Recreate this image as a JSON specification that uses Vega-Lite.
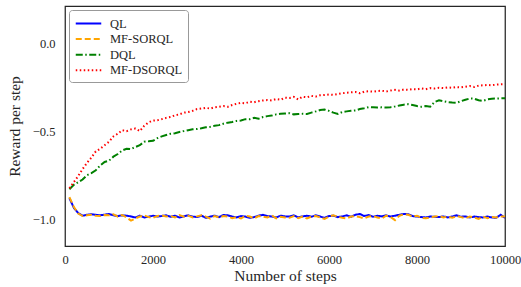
{
  "$schema": "https://vega.github.io/schema/vega-lite/v6.json",
  "width": 440,
  "height": 240,
  "autosize": {"type": "none"},
  "padding": {"left": 65, "top": 6, "right": 16, "bottom": 41},
  "background": "white",
  "config": {
    "font": "Liberation Serif",
    "view": {"stroke": "#262626", "strokeWidth": 1.25},
    "axis": {"domain": false, "grid": false, "ticks": false, "labelColor": "#262626", "titleColor": "#262626", "labelFont": "Liberation Serif", "titleFont": "Liberation Serif", "titleFontWeight": "normal"},
    "legend": {"labelFont": "Liberation Serif", "titleFont": "Liberation Serif"},
    "text": {"font": "Liberation Serif"}
  },
  "data": {"values": [
    {"s":100,"QL":-0.880,"MF-SORQL":-0.875,"DQL":-0.830,"MF-DSORQL":-0.825},
    {"s":200,"QL":-0.935,"MF-SORQL":-0.930,"DQL":-0.805,"MF-DSORQL":-0.790},
    {"s":300,"QL":-0.965,"MF-SORQL":-0.968,"DQL":-0.790,"MF-DSORQL":-0.755},
    {"s":400,"QL":-0.980,"MF-SORQL":-0.982,"DQL":-0.775,"MF-DSORQL":-0.715},
    {"s":500,"QL":-0.975,"MF-SORQL":-0.978,"DQL":-0.750,"MF-DSORQL":-0.680},
    {"s":600,"QL":-0.972,"MF-SORQL":-0.975,"DQL":-0.738,"MF-DSORQL":-0.650},
    {"s":700,"QL":-0.975,"MF-SORQL":-0.980,"DQL":-0.722,"MF-DSORQL":-0.615},
    {"s":800,"QL":-0.978,"MF-SORQL":-0.982,"DQL":-0.695,"MF-DSORQL":-0.600},
    {"s":900,"QL":-0.974,"MF-SORQL":-0.976,"DQL":-0.675,"MF-DSORQL":-0.580},
    {"s":1000,"QL":-0.970,"MF-SORQL":-0.978,"DQL":-0.668,"MF-DSORQL":-0.560},
    {"s":1100,"QL":-0.978,"MF-SORQL":-0.972,"DQL":-0.645,"MF-DSORQL":-0.530},
    {"s":1200,"QL":-0.982,"MF-SORQL":-0.985,"DQL":-0.630,"MF-DSORQL":-0.515},
    {"s":1300,"QL":-0.978,"MF-SORQL":-0.976,"DQL":-0.610,"MF-DSORQL":-0.495},
    {"s":1400,"QL":-0.980,"MF-SORQL":-0.990,"DQL":-0.600,"MF-DSORQL":-0.500},
    {"s":1500,"QL":-0.984,"MF-SORQL":-1.008,"DQL":-0.602,"MF-DSORQL":-0.490},
    {"s":1600,"QL":-0.990,"MF-SORQL":-0.995,"DQL":-0.590,"MF-DSORQL":-0.485},
    {"s":1700,"QL":-0.980,"MF-SORQL":-0.985,"DQL":-0.580,"MF-DSORQL":-0.500},
    {"s":1800,"QL":-0.990,"MF-SORQL":-0.978,"DQL":-0.560,"MF-DSORQL":-0.470},
    {"s":1900,"QL":-0.986,"MF-SORQL":-0.988,"DQL":-0.558,"MF-DSORQL":-0.450},
    {"s":2000,"QL":-0.980,"MF-SORQL":-0.992,"DQL":-0.555,"MF-DSORQL":-0.440},
    {"s":2100,"QL":-0.985,"MF-SORQL":-0.982,"DQL":-0.540,"MF-DSORQL":-0.438},
    {"s":2200,"QL":-0.982,"MF-SORQL":-0.978,"DQL":-0.530,"MF-DSORQL":-0.432},
    {"s":2300,"QL":-0.978,"MF-SORQL":-0.985,"DQL":-0.522,"MF-DSORQL":-0.425},
    {"s":2400,"QL":-0.986,"MF-SORQL":-0.982,"DQL":-0.515,"MF-DSORQL":-0.420},
    {"s":2500,"QL":-0.980,"MF-SORQL":-0.990,"DQL":-0.512,"MF-DSORQL":-0.410},
    {"s":2600,"QL":-0.990,"MF-SORQL":-0.976,"DQL":-0.505,"MF-DSORQL":-0.405},
    {"s":2700,"QL":-0.984,"MF-SORQL":-0.986,"DQL":-0.500,"MF-DSORQL":-0.395},
    {"s":2800,"QL":-0.978,"MF-SORQL":-0.980,"DQL":-0.495,"MF-DSORQL":-0.392},
    {"s":2900,"QL":-0.985,"MF-SORQL":-0.990,"DQL":-0.490,"MF-DSORQL":-0.385},
    {"s":3000,"QL":-0.988,"MF-SORQL":-0.984,"DQL":-0.488,"MF-DSORQL":-0.375},
    {"s":3100,"QL":-0.980,"MF-SORQL":-0.978,"DQL":-0.484,"MF-DSORQL":-0.372},
    {"s":3200,"QL":-0.992,"MF-SORQL":-0.985,"DQL":-0.478,"MF-DSORQL":-0.368},
    {"s":3300,"QL":-0.985,"MF-SORQL":-0.996,"DQL":-0.476,"MF-DSORQL":-0.372},
    {"s":3400,"QL":-0.980,"MF-SORQL":-0.982,"DQL":-0.470,"MF-DSORQL":-0.365},
    {"s":3500,"QL":-0.988,"MF-SORQL":-0.990,"DQL":-0.466,"MF-DSORQL":-0.362},
    {"s":3600,"QL":-0.976,"MF-SORQL":-0.982,"DQL":-0.458,"MF-DSORQL":-0.358},
    {"s":3700,"QL":-0.978,"MF-SORQL":-0.985,"DQL":-0.452,"MF-DSORQL":-0.362},
    {"s":3800,"QL":-0.985,"MF-SORQL":-0.994,"DQL":-0.448,"MF-DSORQL":-0.352},
    {"s":3900,"QL":-0.990,"MF-SORQL":-0.988,"DQL":-0.442,"MF-DSORQL":-0.345},
    {"s":4000,"QL":-0.982,"MF-SORQL":-0.996,"DQL":-0.440,"MF-DSORQL":-0.340},
    {"s":4100,"QL":-0.985,"MF-SORQL":-0.980,"DQL":-0.432,"MF-DSORQL":-0.342},
    {"s":4200,"QL":-0.992,"MF-SORQL":-0.985,"DQL":-0.432,"MF-DSORQL":-0.333},
    {"s":4300,"QL":-0.988,"MF-SORQL":-0.996,"DQL":-0.425,"MF-DSORQL":-0.336},
    {"s":4400,"QL":-0.980,"MF-SORQL":-0.982,"DQL":-0.430,"MF-DSORQL":-0.330},
    {"s":4500,"QL":-0.975,"MF-SORQL":-0.985,"DQL":-0.420,"MF-DSORQL":-0.326},
    {"s":4600,"QL":-0.982,"MF-SORQL":-0.990,"DQL":-0.415,"MF-DSORQL":-0.324},
    {"s":4700,"QL":-0.985,"MF-SORQL":-0.978,"DQL":-0.412,"MF-DSORQL":-0.326},
    {"s":4800,"QL":-0.990,"MF-SORQL":-0.995,"DQL":-0.405,"MF-DSORQL":-0.318},
    {"s":4900,"QL":-0.980,"MF-SORQL":-0.986,"DQL":-0.402,"MF-DSORQL":-0.322},
    {"s":5000,"QL":-0.984,"MF-SORQL":-0.990,"DQL":-0.400,"MF-DSORQL":-0.310},
    {"s":5100,"QL":-0.985,"MF-SORQL":-0.992,"DQL":-0.398,"MF-DSORQL":-0.312},
    {"s":5200,"QL":-0.978,"MF-SORQL":-0.982,"DQL":-0.405,"MF-DSORQL":-0.306},
    {"s":5300,"QL":-0.990,"MF-SORQL":-0.994,"DQL":-0.403,"MF-DSORQL":-0.320},
    {"s":5400,"QL":-0.984,"MF-SORQL":-0.985,"DQL":-0.402,"MF-DSORQL":-0.305},
    {"s":5500,"QL":-0.980,"MF-SORQL":-0.996,"DQL":-0.403,"MF-DSORQL":-0.308},
    {"s":5600,"QL":-0.986,"MF-SORQL":-0.985,"DQL":-0.395,"MF-DSORQL":-0.300},
    {"s":5700,"QL":-0.978,"MF-SORQL":-0.982,"DQL":-0.388,"MF-DSORQL":-0.304},
    {"s":5800,"QL":-0.985,"MF-SORQL":-0.990,"DQL":-0.380,"MF-DSORQL":-0.296},
    {"s":5900,"QL":-0.992,"MF-SORQL":-0.998,"DQL":-0.378,"MF-DSORQL":-0.295},
    {"s":6000,"QL":-0.982,"MF-SORQL":-0.985,"DQL":-0.385,"MF-DSORQL":-0.292},
    {"s":6100,"QL":-0.980,"MF-SORQL":-0.978,"DQL":-0.395,"MF-DSORQL":-0.294},
    {"s":6200,"QL":-0.988,"MF-SORQL":-0.986,"DQL":-0.403,"MF-DSORQL":-0.290},
    {"s":6300,"QL":-0.984,"MF-SORQL":-0.992,"DQL":-0.392,"MF-DSORQL":-0.285},
    {"s":6400,"QL":-0.978,"MF-SORQL":-0.995,"DQL":-0.388,"MF-DSORQL":-0.282},
    {"s":6500,"QL":-0.986,"MF-SORQL":-0.985,"DQL":-0.385,"MF-DSORQL":-0.280},
    {"s":6600,"QL":-0.975,"MF-SORQL":-0.982,"DQL":-0.383,"MF-DSORQL":-0.278},
    {"s":6700,"QL":-0.970,"MF-SORQL":-0.988,"DQL":-0.375,"MF-DSORQL":-0.285},
    {"s":6800,"QL":-0.982,"MF-SORQL":-0.996,"DQL":-0.370,"MF-DSORQL":-0.276},
    {"s":6900,"QL":-0.976,"MF-SORQL":-0.985,"DQL":-0.364,"MF-DSORQL":-0.274},
    {"s":7000,"QL":-0.986,"MF-SORQL":-0.982,"DQL":-0.365,"MF-DSORQL":-0.276},
    {"s":7100,"QL":-0.980,"MF-SORQL":-0.990,"DQL":-0.366,"MF-DSORQL":-0.272},
    {"s":7200,"QL":-0.984,"MF-SORQL":-0.996,"DQL":-0.365,"MF-DSORQL":-0.271},
    {"s":7300,"QL":-0.978,"MF-SORQL":-0.980,"DQL":-0.366,"MF-DSORQL":-0.275},
    {"s":7400,"QL":-0.985,"MF-SORQL":-0.988,"DQL":-0.364,"MF-DSORQL":-0.270},
    {"s":7500,"QL":-0.980,"MF-SORQL":-1.005,"DQL":-0.360,"MF-DSORQL":-0.266},
    {"s":7600,"QL":-0.975,"MF-SORQL":-0.980,"DQL":-0.355,"MF-DSORQL":-0.270},
    {"s":7700,"QL":-0.970,"MF-SORQL":-0.972,"DQL":-0.350,"MF-DSORQL":-0.264},
    {"s":7800,"QL":-0.972,"MF-SORQL":-0.975,"DQL":-0.347,"MF-DSORQL":-0.266},
    {"s":7900,"QL":-0.982,"MF-SORQL":-0.985,"DQL":-0.352,"MF-DSORQL":-0.262},
    {"s":8000,"QL":-0.985,"MF-SORQL":-0.980,"DQL":-0.358,"MF-DSORQL":-0.263},
    {"s":8100,"QL":-0.988,"MF-SORQL":-0.992,"DQL":-0.362,"MF-DSORQL":-0.258},
    {"s":8200,"QL":-0.990,"MF-SORQL":-0.995,"DQL":-0.358,"MF-DSORQL":-0.262},
    {"s":8300,"QL":-0.985,"MF-SORQL":-0.990,"DQL":-0.362,"MF-DSORQL":-0.256},
    {"s":8400,"QL":-0.986,"MF-SORQL":-0.985,"DQL":-0.335,"MF-DSORQL":-0.258},
    {"s":8500,"QL":-0.988,"MF-SORQL":-0.982,"DQL":-0.325,"MF-DSORQL":-0.254},
    {"s":8600,"QL":-0.984,"MF-SORQL":-0.990,"DQL":-0.330,"MF-DSORQL":-0.256},
    {"s":8700,"QL":-0.990,"MF-SORQL":-0.985,"DQL":-0.335,"MF-DSORQL":-0.252},
    {"s":8800,"QL":-0.985,"MF-SORQL":-0.992,"DQL":-0.338,"MF-DSORQL":-0.254},
    {"s":8900,"QL":-0.978,"MF-SORQL":-0.982,"DQL":-0.339,"MF-DSORQL":-0.250},
    {"s":9000,"QL":-0.986,"MF-SORQL":-0.988,"DQL":-0.330,"MF-DSORQL":-0.252},
    {"s":9100,"QL":-0.984,"MF-SORQL":-0.995,"DQL":-0.322,"MF-DSORQL":-0.248},
    {"s":9200,"QL":-0.990,"MF-SORQL":-0.985,"DQL":-0.315,"MF-DSORQL":-0.244},
    {"s":9300,"QL":-0.985,"MF-SORQL":-0.990,"DQL":-0.316,"MF-DSORQL":-0.250},
    {"s":9400,"QL":-0.988,"MF-SORQL":-0.998,"DQL":-0.325,"MF-DSORQL":-0.242},
    {"s":9500,"QL":-0.990,"MF-SORQL":-0.985,"DQL":-0.328,"MF-DSORQL":-0.240},
    {"s":9600,"QL":-0.985,"MF-SORQL":-0.994,"DQL":-0.320,"MF-DSORQL":-0.238},
    {"s":9700,"QL":-0.990,"MF-SORQL":-0.988,"DQL":-0.316,"MF-DSORQL":-0.240},
    {"s":9800,"QL":-0.992,"MF-SORQL":-0.990,"DQL":-0.315,"MF-DSORQL":-0.236},
    {"s":9900,"QL":-0.975,"MF-SORQL":-0.984,"DQL":-0.314,"MF-DSORQL":-0.234},
    {"s":10000,"QL":-0.992,"MF-SORQL":-0.985,"DQL":-0.314,"MF-DSORQL":-0.233}
  ]},
  "transform": [
    {"fold": ["QL", "MF-SORQL", "DQL", "MF-DSORQL"], "as": ["method", "reward"]}
  ],
  "mark": {"type": "line", "strokeWidth": 2, "clip": true},
  "encoding": {
    "x": {
      "field": "s", "type": "quantitative",
      "scale": {"domain": [0, 10000], "nice": false, "zero": false},
      "axis": {"title": "Number of steps", "values": [0, 2000, 4000, 6000, 8000, 10000], "format": "d", "labelFontSize": 12.5, "titleFontSize": 15.5, "labelPadding": 7, "titlePadding": 3, "labelFlush": false}
    },
    "y": {
      "field": "reward", "type": "quantitative",
      "scale": {"domain": [-1.152, 0.21], "nice": false, "zero": false},
      "axis": {"title": "Reward per step", "values": [-1, -0.5, 0], "format": ".1f", "labelFontSize": 12.5, "titleFontSize": 15.5, "labelPadding": 10, "titlePadding": 10}
    },
    "color": {
      "field": "method", "type": "nominal",
      "scale": {"domain": ["QL", "MF-SORQL", "DQL", "MF-DSORQL"], "range": ["#0000ff", "#ffa500", "#008000", "#ff0000"]},
      "legend": {"title": null, "orient": "top-left", "offset": 4, "symbolType": "M-1.7,0H1.7", "symbolSize": 225, "symbolOffset": 6, "symbolStrokeWidth": 2, "labelFontSize": 12.5, "labelColor": "#262626", "labelFont": "Liberation Serif", "rowPadding": 0.6, "padding": 5, "fillColor": "white", "strokeColor": "#999999", "cornerRadius": 3, "labelOffset": 13}
    },
    "strokeDash": {
      "field": "method", "type": "nominal",
      "scale": {"domain": ["QL", "MF-SORQL", "DQL", "MF-DSORQL"], "range": [[1, 0], [6, 3], [7, 2.5, 1.5, 2.5], [1.5, 2.5]]},
      "legend": {"title": null, "labelFont": "Liberation Serif"}
    }
  }
}
